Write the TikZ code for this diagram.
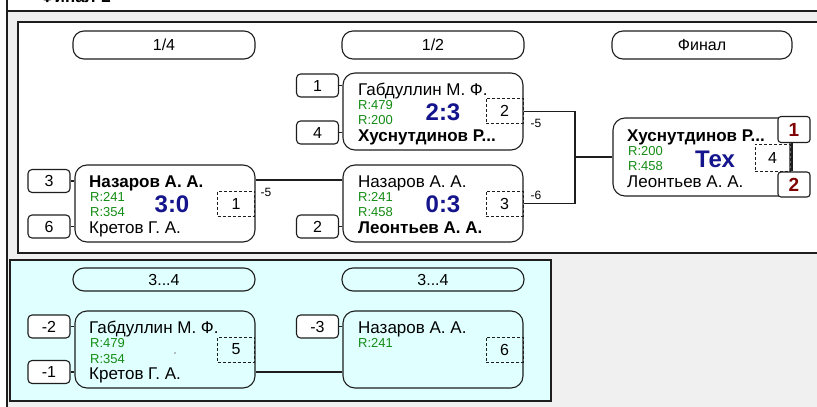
\documentclass[tikz,border=0pt]{standalone}
\usepackage{fontspec}
\setmainfont{Liberation Sans}
\newcommand\fsz[1]{\fontsize{#1}{#1}\selectfont}
\definecolor{linec}{RGB}{30,30,30}
\definecolor{bggray}{RGB}{240,240,240}
\definecolor{panelcyan}{RGB}{224,255,255}
\definecolor{rgreen}{RGB}{20,140,20}
\definecolor{sblue}{RGB}{20,20,140}
\definecolor{dred}{RGB}{128,0,0}
\begin{document}
\begin{tikzpicture}[x=1pt,y=-1pt,
  ln/.style={line width=1.1pt, draw=linec},
  match/.style={ln, rounded corners=12pt, minimum width=180pt, minimum height=77pt, inner sep=0pt},
  pill/.style={ln, rounded corners=11pt, minimum width=182pt, inner sep=0pt, font=\fsz{16}},
  seed/.style={ln, rounded corners=4pt, minimum width=42pt, minimum height=23pt, inner sep=0pt, fill=white, font=\fsz{16}},
  dbox/.style={draw=linec, line width=1pt, dash pattern=on 3pt off 2pt, minimum width=37pt, minimum height=25pt, inner sep=0pt, font=\fsz{16}},
  rbox/.style={ln, rounded corners=3pt, fill=white, minimum width=32pt, minimum height=26pt, inner sep=0pt, font=\fsz{19}\bfseries, text=dred},
  nm/.style={anchor=base west, inner sep=0pt, font=\fsz{17}},
  bnm/.style={anchor=base west, inner sep=0pt, font=\fsz{17}\bfseries},
  rt/.style={anchor=base west, inner sep=0pt, font=\fsz{13}, text=rgreen},
  sc/.style={anchor=base, inner sep=0pt, font=\fsz{24}\bfseries, text=sblue},
  lab/.style={inner sep=0pt, font=\fsz{12}},
]
\useasboundingbox (0,0) rectangle (817,407);
\clip (0,0) rectangle (817,407);
% background
\fill[white] (0,0) rectangle (817,407);
\fill[bggray] (7,11) rectangle (817,407);
\draw[ln] (7,0) -- (7,407);
\draw[ln] (7,11) -- (817,11);
\node[anchor=base west, inner sep=0pt, font=\fsz{17}\bfseries] (title) at (40,2) {Финал-2};
% upper panel
\fill[white] (18,22) rectangle (818,253);
\draw[ln] (818,22) -- (18,22) -- (18,253) -- (818,253);
% lower panel
\filldraw[fill=panelcyan, draw=linec, line width=1.4pt] (10,260) rectangle (551,401);

% headers
\node[pill, minimum height=28pt] (h1) at (164,45) {1/4};
\node[pill, minimum height=28pt] (h2) at (433,45) {1/2};
\node[pill, minimum height=28pt, minimum width=180pt] (h3) at (702,45) {Финал};
\node[pill, minimum height=23pt] (h4) at (164,279.5) {3...4};
\node[pill, minimum height=23pt] (h5) at (433,279.5) {3...4};

% match boxes
\node[match] (m1) at (165,203.5) {};
\node[match] (m2) at (433,111.5) {};
\node[match] (m3) at (433,203.5) {};
\node[match, minimum width=177pt, minimum height=78pt] (m4) at (701.5,157) {};
\node[match] (m5) at (165,349.5) {};
\node[match] (m6) at (433,349.5) {};

% match 1
\node[bnm] (m1a) at (89,187) {Назаров А. А.};
\node[rt] (m1r1) at (90,201) {R:241};
\node[rt] (m1r2) at (90,216) {R:354};
\node[nm] (m1b) at (89,233) {Кретов Г. А.};
\node[sc] (m1s) at (172,212) {3:0};
\node[dbox] (d1) at (236,203.5) {1};
% match 2
\node[nm] (m2a) at (358,95) {Габдуллин М. Ф.};
\node[rt] (m2r1) at (358,109) {R:479};
\node[rt] (m2r2) at (358,124) {R:200};
\node[bnm] (m2b) at (358,141) {Хуснутдинов Р...};
\node[sc] (m2s) at (443,120) {2:3};
\node[dbox] (d2) at (504.5,110.5) {2};
% match 3
\node[nm] (m3a) at (358,187) {Назаров А. А.};
\node[rt] (m3r1) at (358,201) {R:241};
\node[rt] (m3r2) at (358,216) {R:458};
\node[bnm] (m3b) at (358,233) {Леонтьев А. А.};
\node[sc] (m3s) at (443,212) {0:3};
\node[dbox] (d3) at (504.5,203.5) {3};
% final
\node[bnm] (m4a) at (627,141) {Хуснутдинов Р...};
\node[rt] (m4r1) at (628,155) {R:200};
\node[rt] (m4r2) at (628,170) {R:458};
\node[nm] (m4b) at (627,187) {Леонтьев А. А.};
\node[sc] (m4s) at (715,167) {Тех};
\node[dbox, minimum width=35pt, minimum height=27pt] (d4) at (772.5,157.5) {4};
\node[rbox] (r1) at (794,129.5) {1};
\node[rbox, minimum height=25pt] (r2) at (794,184.5) {2};
\draw[ln] ([xshift=-2pt]r1.south) -- ([xshift=-2pt]r2.north);
% match 5
\node[nm] (m5a) at (89,333) {Габдуллин М. Ф.};
\node[rt] (m5r1) at (90,347) {R:479};
\node[rt] (m5r2) at (90,363) {R:354};
\node[nm] (m5b) at (89,379) {Кретов Г. А.};
\fill[gray] (175,353) circle (0.9pt);
\node[dbox] (d5) at (236,349.5) {5};
% match 6
\node[nm] (m6a) at (358,333) {Назаров А. А.};
\node[rt] (m6r1) at (358,347) {R:241};
\node[dbox] (d6) at (504.5,349.5) {6};

% seeds
\node[seed] (s3) at (49,181) {3};
\node[seed] (s6) at (49,226.5) {6};
\node[seed] (s1) at (317.5,85.5) {1};
\node[seed] (s4) at (317.5,132.5) {4};
\node[seed] (s2) at (317.5,226.5) {2};
\node[seed] (sm2) at (49,326.5) {-2};
\node[seed] (sm1) at (49,372) {-1};
\node[seed] (sm3) at (317.5,326.5) {-3};
\foreach \s/\m in {s3/m1,s6/m1,s1/m2,s4/m2,s2/m3,sm2/m5,sm1/m5,sm3/m6}
  \draw[ln] (\s.east) -- (\s.east -| \m.west);

% bracket connectors
\coordinate (j1) at (180,180);
\draw[ln] (m1.east |- j1) -- (m3.west |- j1);
\node[lab] (l1) at (266,192) {-5};
\coordinate (j2) at (575,157);
\draw[ln] (m2.east) -| (j2) |- (m3.east);
\draw[ln] (j2) -- (m4.west);
\node[lab] (l2) at (536,123) {-5};
\node[lab] (l3) at (536,195) {-6};
\coordinate (j3) at (180,372);
\draw[ln] (m5.east |- j3) -- (m6.west |- j3);
\end{tikzpicture}
\end{document}
